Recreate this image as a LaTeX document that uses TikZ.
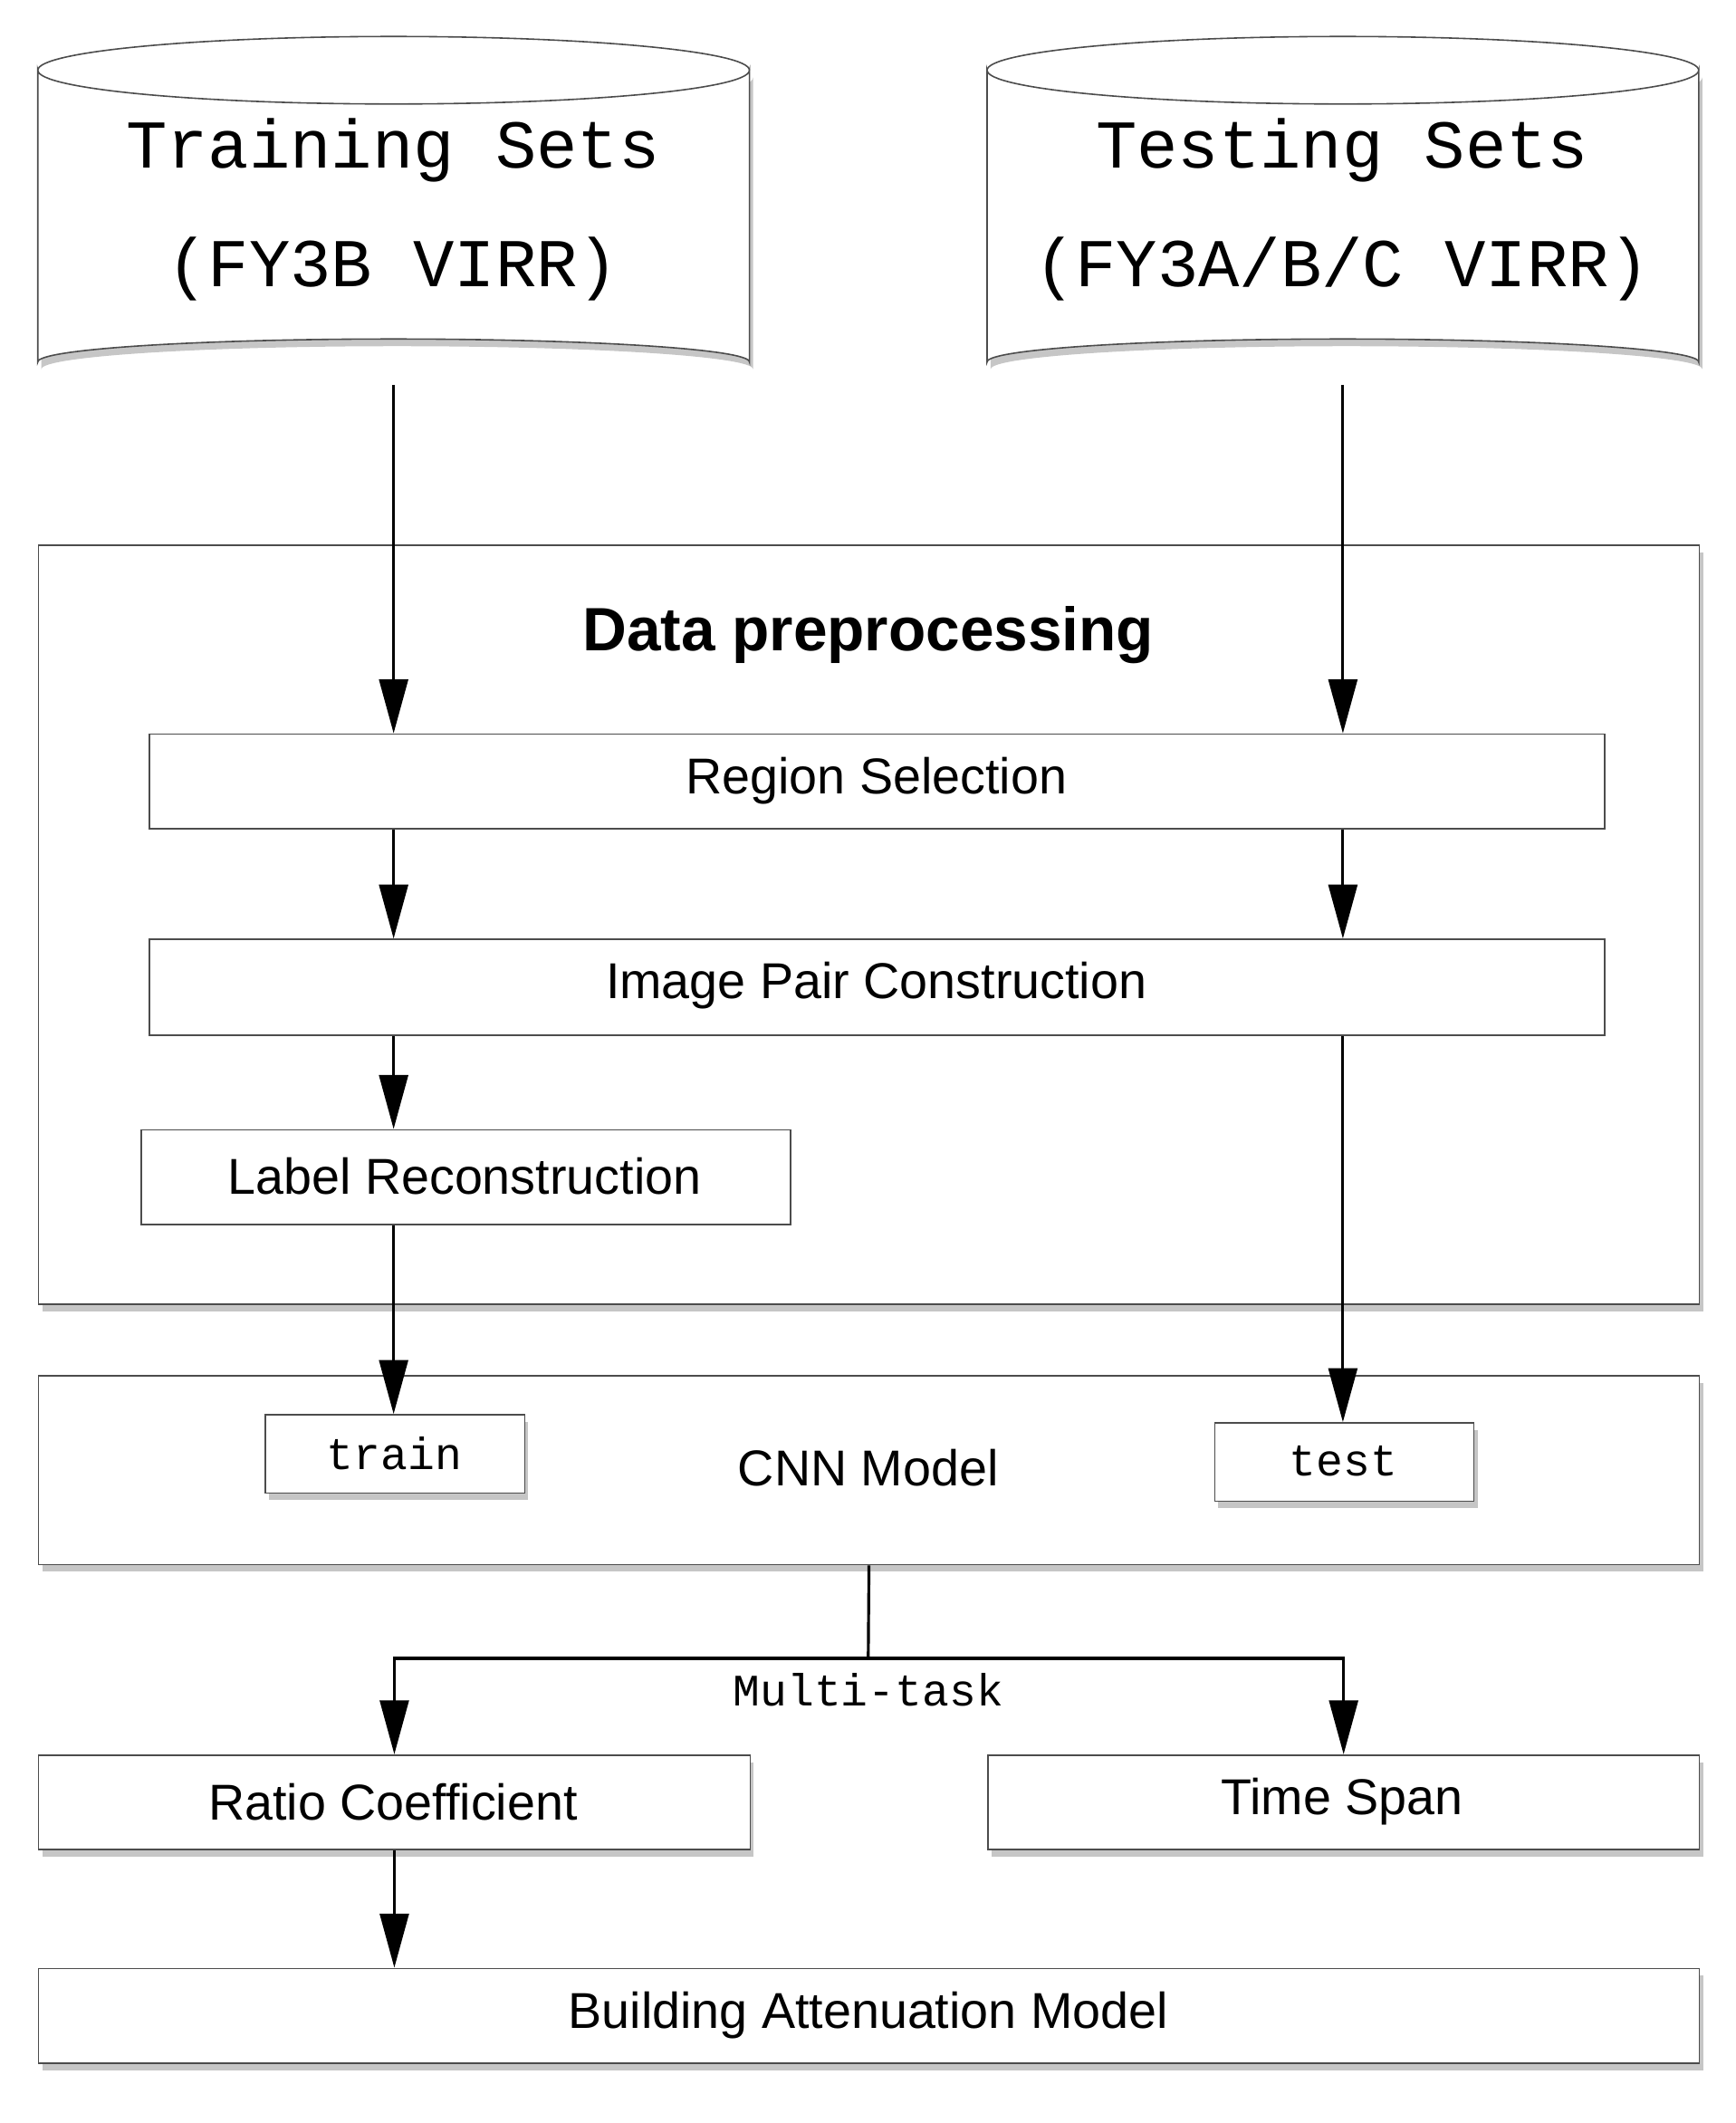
\documentclass[tikz,border=0pt]{standalone}
\usepackage{fontspec}
\setmainfont{Liberation Sans}
\newfontfamily\mymono{Liberation Mono}
\usetikzlibrary{arrows.meta,shadows}
\begin{document}
\begin{tikzpicture}[x=0.75pt,y=-0.75pt,
  shd/.style={drop shadow={shadow xshift=2pt,shadow yshift=-4pt,opacity=0.45,fill=gray}},
  box/.style={draw=black!70,fill=white,line width=0.8pt,shd},
  lbl/.style={font=\fontsize{28}{32}\selectfont},
  arr/.style={-{Triangle[length=30pt,width=16pt]},line width=1.6pt},
  ln/.style={line width=1.6pt}]
\useasboundingbox (0,0) rectangle (1285,1572);
% cylinders
\foreach \n/\xa/\xb in {cl/28/555,cr/731/1258}{
  \pgfmathsetmacro\xm{(\xa+\xb)/2}
  \pgfmathsetmacro\rx{(\xb-\xa)/2}
  \filldraw[draw=black!70,fill=white,line width=0.8pt,shd]
    (\xa,52) -- (\xa,268) arc[start angle=180,end angle=360,x radius=\rx,y radius=17] -- (\xb,52)
    arc[start angle=0,end angle=180,x radius=\rx,y radius=25] -- cycle;
  \draw[black!70,line width=0.8pt] (\xa,52) arc[start angle=180,end angle=360,x radius=\rx,y radius=25];
  \coordinate (\n) at (\xm,285);
}
\node[font=\mymono\fontsize{38}{66}\selectfont,align=center] (tr) at (291,155) {Training Sets\\(FY3B VIRR)};
\node[font=\mymono\fontsize{38}{66}\selectfont,align=center] (te) at (994,155) {Testing Sets\\(FY3A/B/C VIRR)};
% data preprocessing
\node[box,minimum width=1230*0.75pt,minimum height=562*0.75pt,anchor=north west] (dp) at (28,403) {};
\node[font=\bfseries\fontsize{34}{40}\selectfont] (dpt) at (643,470) {Data preprocessing};
\node[draw=black!70,fill=white,line width=0.8pt,minimum width=1078*0.75pt,minimum height=70*0.75pt,anchor=north west,lbl] (rs) at (110,543) {};
\node[lbl] (rst) at (649,578) {Region Selection};
\node[draw=black!70,fill=white,line width=0.8pt,minimum width=1078*0.75pt,minimum height=71*0.75pt,anchor=north west] (ip) at (110,695) {};
\node[lbl] (ipt) at (649,730) {Image Pair Construction};
\node[draw=black!70,fill=white,line width=0.8pt,minimum width=481*0.75pt,minimum height=70*0.75pt,anchor=north west] (lr) at (104,836) {};
\node[lbl] (lrt) at (344,871) {Label Reconstruction};
% CNN
\node[box,minimum width=1230*0.75pt,minimum height=140*0.75pt,anchor=north west] (cnn) at (28,1018) {};
\node[lbl] (cnnt) at (643,1087) {CNN Model};
\node[box,minimum width=192*0.75pt,minimum height=58*0.75pt,anchor=north west] (trn) at (196,1047) {};
\node[font=\mymono\fontsize{25}{30}\selectfont] at (292,1076) {train};
\node[box,minimum width=192*0.75pt,minimum height=58*0.75pt,anchor=north west] (tst) at (899,1053) {};
\node[font=\mymono\fontsize{25}{30}\selectfont] at (995,1082) {test};
% outputs
\node[box,minimum width=527*0.75pt,minimum height=70*0.75pt,anchor=north west] (rc) at (28,1299) {};
\node[lbl] at (291,1334) {Ratio Coefficient};
\node[box,minimum width=527*0.75pt,minimum height=70*0.75pt,anchor=north west] (ts) at (731,1299) {};
\node[lbl] at (994,1334) {Time Span};
\node[box,minimum width=1230*0.75pt,minimum height=70*0.75pt,anchor=north west] (ba) at (28,1457) {};
\node[lbl] at (643,1492) {Building Attenuation Model};
% arrows
\draw[arr] (cl) -- (cl |- rs.north);
\draw[arr] (cr) -- (cr |- rs.north);
\draw[arr] (cl |- rs.south) -- (cl |- ip.north);
\draw[arr] (cr |- rs.south) -- (cr |- ip.north);
\draw[arr] (cl |- ip.south) -- (cl |- lr.north);
\draw[arr] (cl |- lr.south) -- (cl |- trn.north);
\draw[arr] (cr |- ip.south) -- (cr |- tst.north);
\coordinate (mj) at (643,1228);
\draw[ln] (cnn.south) -- (mj);
\draw[arr] (mj) -| (rc.north);
\draw[arr] (mj) -| (ts.north);
\node[font=\mymono\fontsize{25}{30}\selectfont] (mt) at (643,1251) {Multi-task};
\draw[arr] (rc.south) -- (ba.north -| rc.south);
\end{tikzpicture}
\end{document}
